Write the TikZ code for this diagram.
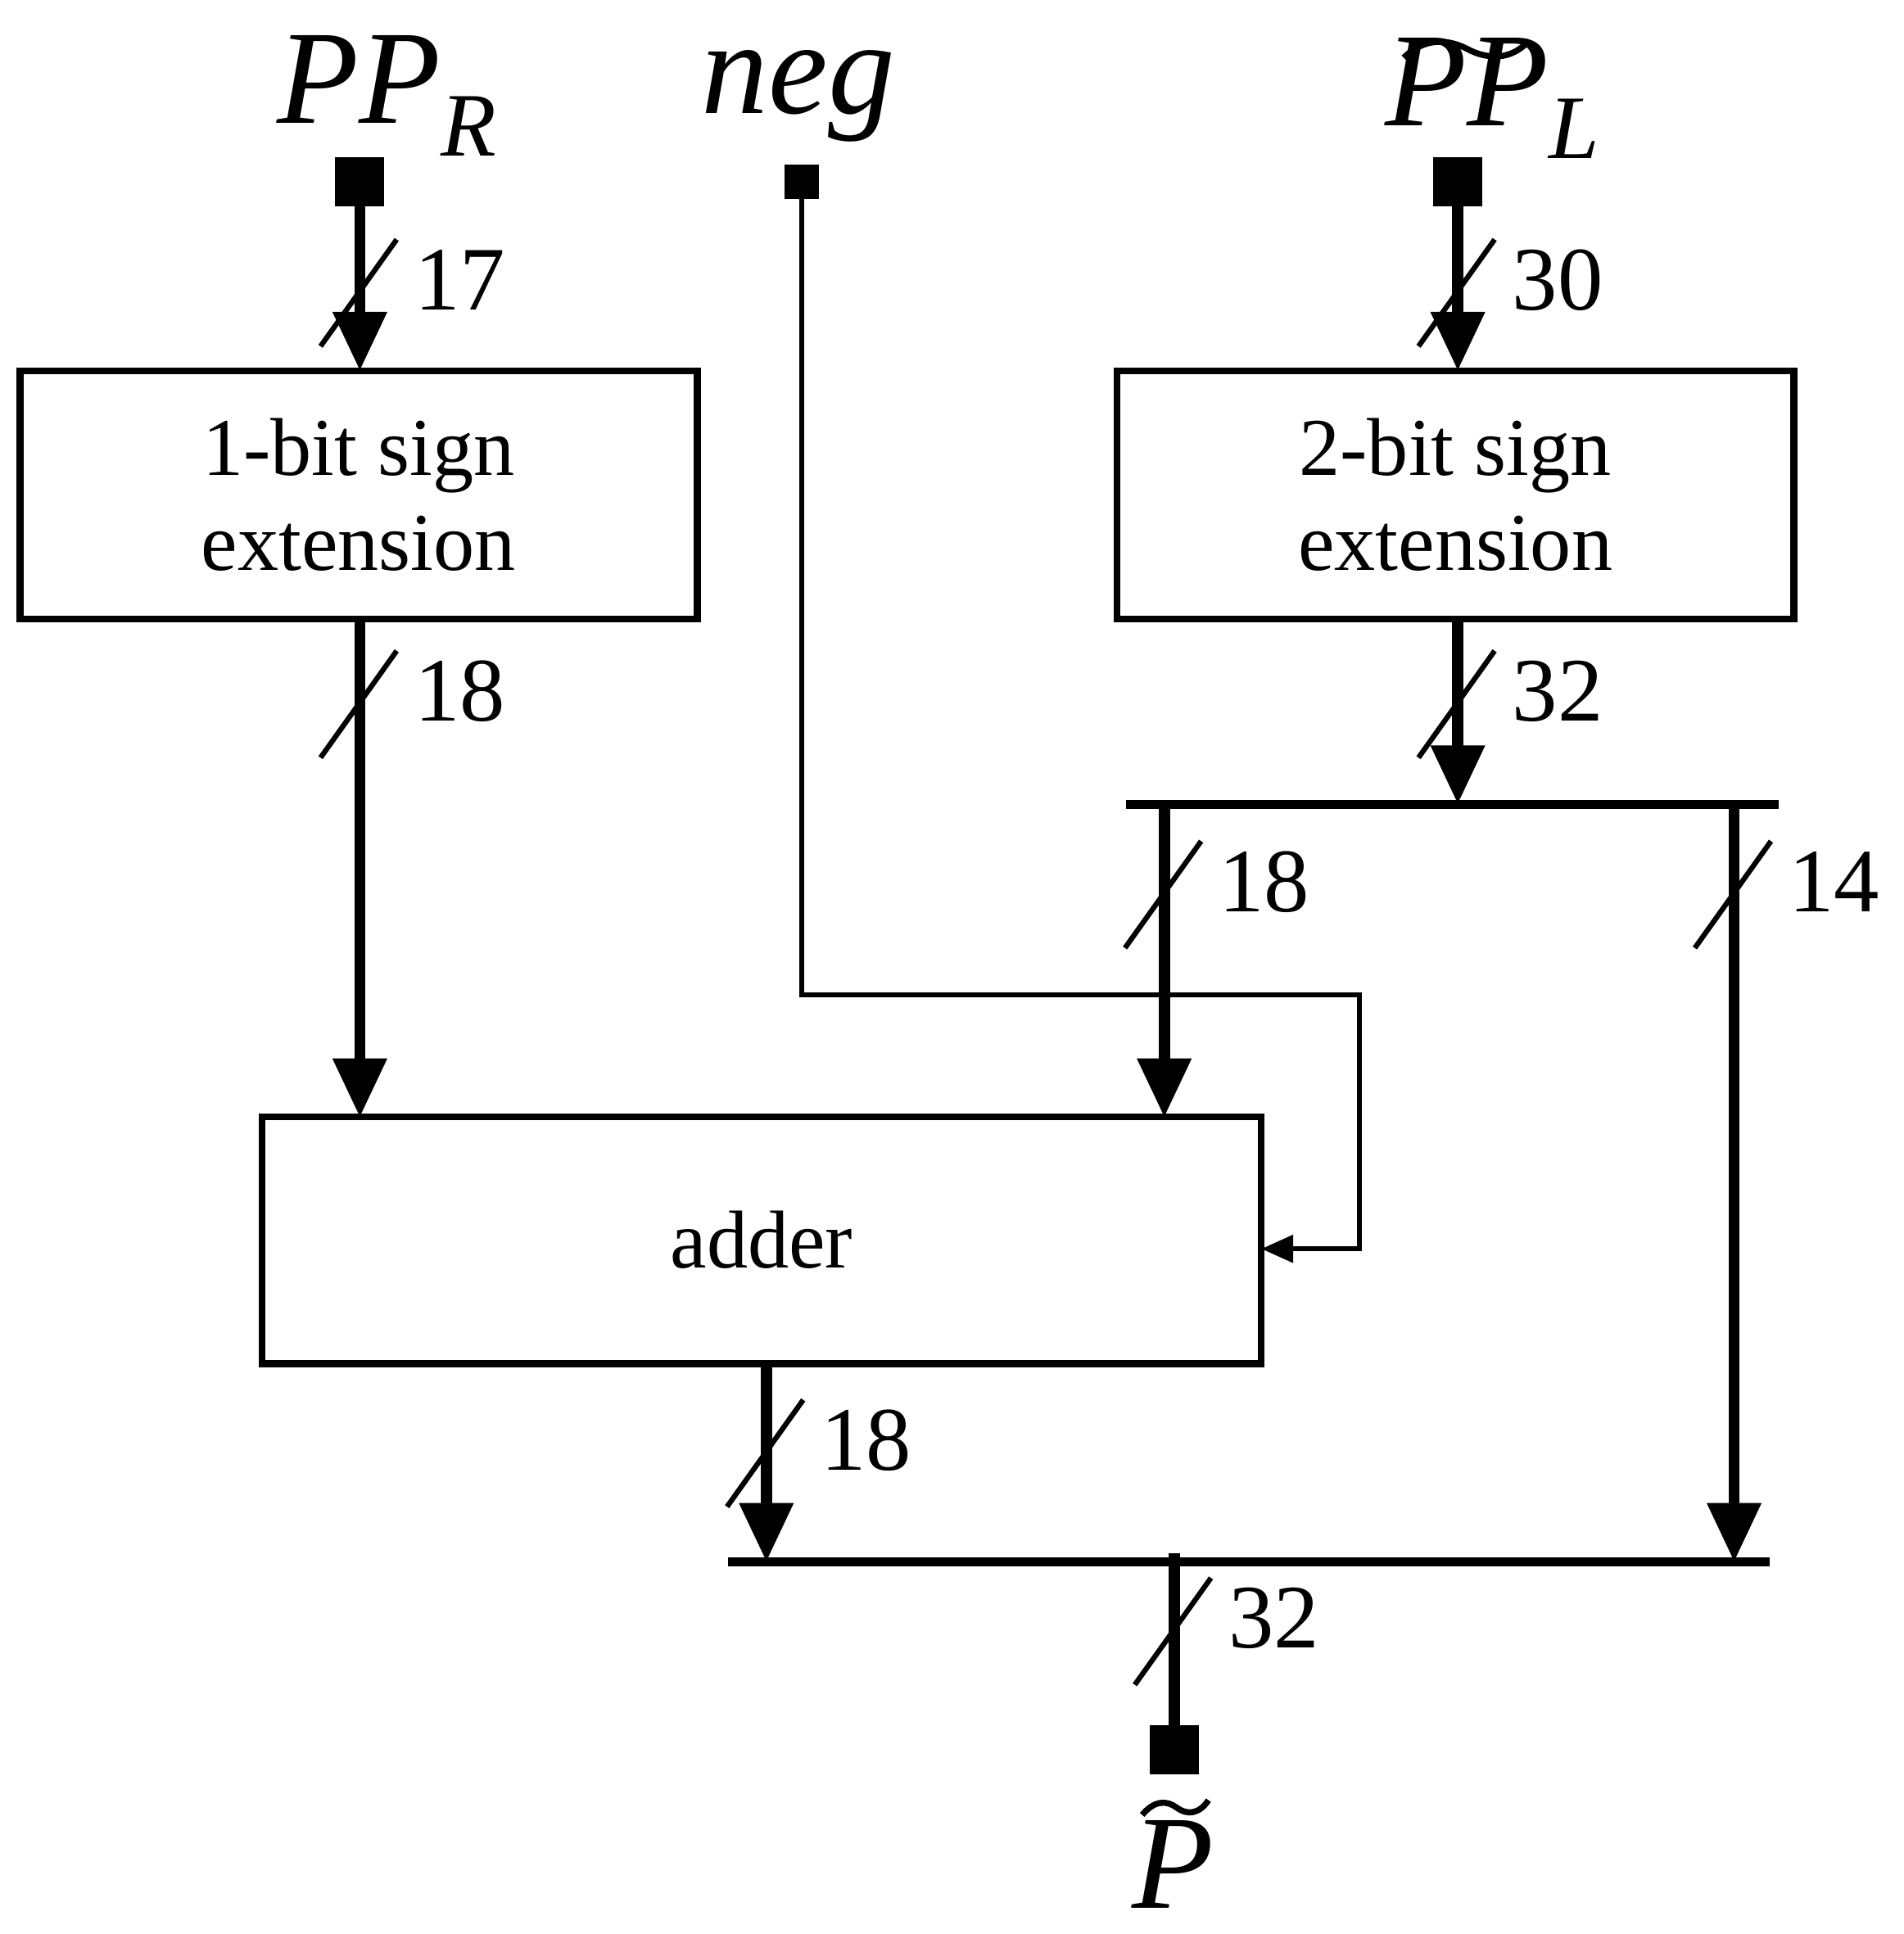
\documentclass[tikz,border=0pt]{standalone}
\usepackage{fontspec}
\setmainfont{Liberation Serif}
\usetikzlibrary{arrows.meta}
\newcommand{\mysub}[1]{\raisebox{-0.25em}{\fontsize{21}{24}\selectfont\textit{#1}}}
\begin{document}
\begin{tikzpicture}[x=0.01cm,y=-0.01cm,
  bus/.style={line width=2.6pt,-{Triangle[width=0.42cm,length=0.48cm]}},
  busn/.style={line width=2.6pt},
  thin/.style={line width=1.2pt},
  thinar/.style={line width=1.2pt,-{Triangle[width=0.22cm,length=0.26cm]}},
  box/.style={draw,line width=1.6pt,inner sep=0pt,font=\fontsize{19}{22}\selectfont,align=center},
  num/.style={font=\fontsize{21}{24}\selectfont},
  big/.style={font=\fontsize{31}{34}\selectfont},
  tld/.style={line width=1.4pt},
  term/.style={fill=black,draw=none}]
\useasboundingbox (0,0) rectangle (1550,1575);
% boxes
\node[box,minimum width=5.51cm,minimum height=2.02cm] (b1) at (292,403) {1-bit sign\\extension};
\node[box,minimum width=5.51cm,minimum height=2.02cm] (b2) at (1185,403) {2-bit sign\\extension};
\node[box,minimum width=8.13cm,minimum height=2.01cm] (add) at (620,1010) {adder};
% labels
\node[big] (lr) at (315,78) {\textit{PP}\mysub{R}};
\node[big] (ln) at (650,78) {\textit{neg}};
\node[big] (ll) at (1215,80) {\textit{PP}\mysub{L}};
\node[big] (lp) at (955,1518) {\textit{P}};
% tildes
\draw[tld] (1143,47) .. controls (1160,30) and (1180,32) .. (1195,40) .. controls (1210,48) and (1230,50) .. (1245,33);
\draw[tld] (930,1478) .. controls (940,1466) and (950,1466) .. (958,1472) .. controls (966,1478) and (976,1478) .. (984,1466);
% terminals
\fill[term] (273,128) rectangle (313,168);
\fill[term] (639,134) rectangle (667,162);
\fill[term] (1167,128) rectangle (1207,168);
\fill[term] (936,1405) rectangle (976,1445);
\coordinate (tr) at (293,168);
\coordinate (tn) at (653,162);
\coordinate (tl) at (1187,168);
\coordinate (tp) at (956,1405);
% buses
\draw[bus] (tr) -- (293,302);
\draw[bus] (tl) -- (1187,302);
\draw[bus] (293,504) -- (293,910);
\draw[bus] (1187,504) -- (1187,655);
\draw[line width=2.2pt] (917,655) -- (1448,655);
\draw[bus] (948,655) -- (948,910);
\draw[bus] (1412,655) -- (1412,1272);
\draw[bus] (624,1111) -- (624,1272);
\draw[line width=2.2pt] (593,1272) -- (1441,1272);
\draw[busn] (956,1265) -- (tp);
% neg
\draw[thinar] (tn) -- (653,810) -- (1107,810) -- (1107,1017) -- (1027,1017);
% slashes and numbers
\foreach \x/\y/\t in {293/240/17,1187/240/30,293/575/18,1187/575/32,948/730/18,1412/730/14,624/1185/18,956/1330/32}{
  \draw[thin] (\x-32,\y+42) -- (\x+30,\y-45);
  \node[num,anchor=west] at (\x+32,\y-12) {\t};
}
\end{tikzpicture}
\end{document}
